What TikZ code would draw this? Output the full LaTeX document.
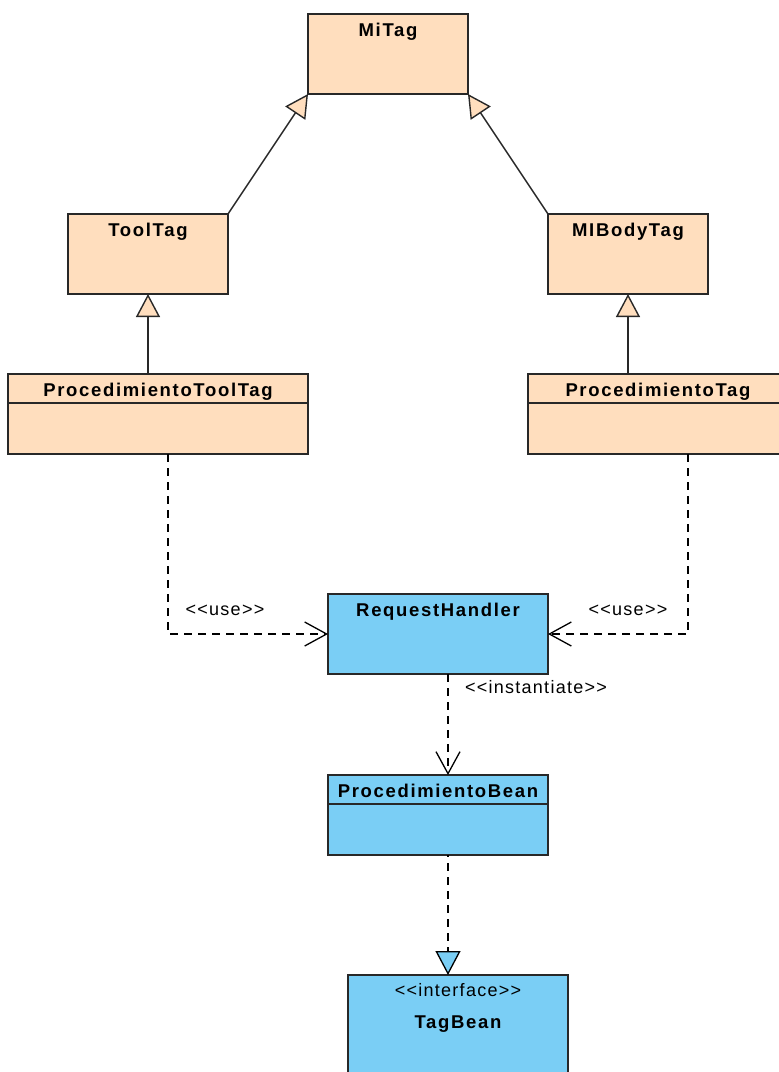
\documentclass[tikz,border=0pt]{standalone}
\usepackage{fontspec}
\setmainfont{Liberation Sans}
\newfontfamily\ttlfont[LetterSpace=9]{Liberation Sans}
\newfontfamily\lblfont[LetterSpace=7]{Liberation Sans}
\usetikzlibrary{arrows.meta}
\definecolor{peach}{RGB}{255,222,190}
\definecolor{sky}{RGB}{122,206,245}
\definecolor{edge}{RGB}{40,40,40}
\begin{document}
\begin{tikzpicture}[x=1pt,y=-1pt,
 cls/.style={draw=edge, line width=1.4pt, rectangle, inner sep=0pt, outer sep=0pt},
 pbox/.style={cls, fill=peach},
 bbox/.style={cls, fill=sky},
 ttl/.style={font=\ttlfont\bfseries\fontsize{18.5}{20}\selectfont, inner sep=0pt, anchor=base},
 lbl/.style={font=\lblfont\fontsize{18}{20}\selectfont, inner sep=0pt, anchor=base},
 divider/.style={draw=edge, line width=1.4pt},
 gen/.style={draw=edge, line width=1.4pt, -{Triangle[length=23pt,width=24pt,fill=peach]}},
 dep/.style={draw=black, line width=1.3pt, dash pattern=on 8pt off 6pt, -{Straight Barb[length=22pt,width=24pt]}},
 realz/.style={draw=black, line width=1.3pt, dash pattern=on 8pt off 6pt, dash phase=6pt, -{Triangle[length=24pt,width=25pt,fill=sky]}}]
\useasboundingbox (0,0) rectangle (779,1072);
\clip (0,0) rectangle (779,1072);

% classes
\node[pbox, minimum width=160pt, minimum height=80pt] (mitag) at (388,54) {};
\node[pbox, minimum width=160pt, minimum height=80pt] (tooltag) at (148,254) {};
\node[pbox, minimum width=160pt, minimum height=80pt] (mibody) at (628,254) {};
\node[pbox, minimum width=300pt, minimum height=80pt] (ptt) at (158,414) {};
\node[pbox, minimum width=260pt, minimum height=80pt] (pt) at (658,414) {};
\node[bbox, minimum width=220pt, minimum height=80pt] (rh) at (438,634) {};
\node[bbox, minimum width=220pt, minimum height=80pt] (pb) at (438,815) {};
\node[bbox, minimum width=220pt, minimum height=110pt] (tb) at (458,1030) {};

\draw[divider] ([yshift=-29pt]ptt.north west) -- ([yshift=-29pt]ptt.north east);
\draw[divider] ([yshift=-29pt]pt.north west) -- ([yshift=-29pt]pt.north east);
\draw[divider] ([yshift=-29pt]pb.north west) -- ([yshift=-29pt]pb.north east);

% titles
\node[ttl] (mitagT) at ([yshift=-22pt]mitag.north) {MiTag};
\node[ttl] (tooltagT) at ([yshift=-22pt]tooltag.north) {ToolTag};
\node[ttl] (mibodyT) at ([yshift=-22pt]mibody.north) {MIBodyTag};
\node[ttl] (pttT) at ([yshift=-22pt]ptt.north) {ProcedimientoToolTag};
\node[ttl] (ptT) at ([yshift=-22pt]pt.north) {ProcedimientoTag};
\node[ttl] (rhT) at ([yshift=-22.5pt]rh.north) {RequestHandler};
\node[ttl] (pbT) at ([yshift=-22pt]pb.north) {ProcedimientoBean};
\node[lbl] (tbS) at ([yshift=-21.5pt]tb.north) {<<interface>>};
\node[ttl] (tbT) at ([yshift=-53pt]tb.north) {TagBean};

% generalizations
\draw[gen] (tooltag.north east) -- (mitag.south west);
\draw[gen] (mibody.north west) -- (mitag.south east);
\draw[gen] (ptt.north -| tooltag.south) -- (tooltag.south);
\draw[gen] (pt.north -| mibody.south) -- (mibody.south);

% dependencies
\draw[dep] ([xshift=10pt]ptt.south) |- (rh.west);
\draw[dep] ([xshift=30pt]pt.south) |- (rh.east);
\draw[dep] ([xshift=10pt]rh.south) -- ([xshift=10pt]pb.north);
\draw[realz] ([xshift=10pt]pb.south) -- ([xshift=-10pt]tb.north);

% labels
\node[lbl] (use1) at (225,615) {<<use>>};
\node[lbl] (use2) at (628,615) {<<use>>};
\node[lbl] (inst) at (536,693) {<<instantiate>>};
\end{tikzpicture}
\end{document}
